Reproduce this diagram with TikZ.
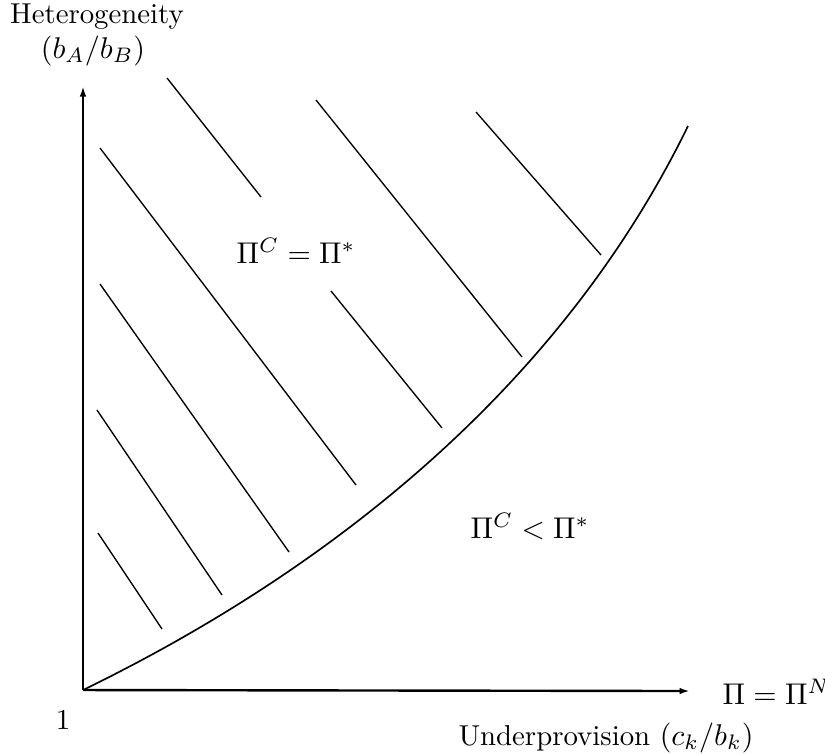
\documentclass[tikz,border=0pt]{standalone}
\usetikzlibrary{arrows.meta}
\begin{document}
\begin{tikzpicture}[x=0.3333pt,y=-0.3333pt,
  axis/.style={line width=0.8pt,-{Latex[length=3.5pt,width=2.2pt]}},
  hatch/.style={line width=0.45pt},
  boundary/.style={line width=0.55pt},
  lbl/.style={inner sep=0pt,anchor=base,font=\fontsize{9.6}{11.5}\selectfont}]
\useasboundingbox (0,0) rectangle (825,753);
\coordinate (O) at (83,690);
\coordinate (ytip) at (83,86);
\coordinate (xtip) at (690,691);
\coordinate (ctop) at (688,126);
\draw[axis] (O) -- (ytip);
\draw[axis] (O) -- (xtip);
% boundary curve
\draw[boundary] (O) .. controls (350,560) and (568,372) .. (ctop);
% hatching
\draw[hatch] (167,78) -- (261,197);
\draw[hatch] (316,100) -- (522,357);
\draw[hatch] (476,112) -- (601,255);
\draw[hatch] (100,148) -- (356,485);
\draw[hatch] (100,284) -- (289,552);
\draw[hatch] (331,291) -- (442,428);
\draw[hatch] (97,410) -- (222,595);
\draw[hatch] (98,533) -- (162,629);
% labels
\node[lbl] (het) at (97,23) {Heterogeneity};
\node[lbl] (hetr) at (93,58) {$(b_A/b_B)$};
\node[lbl] (eq) at (296,263) {$\Pi^C=\Pi^*$};
\node[lbl] (lt) at (530,538) {$\Pi^C<\Pi^*$};
\node[lbl,anchor=base west] (pn) at (722,704) {$\Pi=\Pi^N$};
\node[lbl] (under) at (606,745) {Underprovision $(c_k/b_k)$};
\node[lbl] (one) at (63,729) {1};
\end{tikzpicture}
\end{document}
